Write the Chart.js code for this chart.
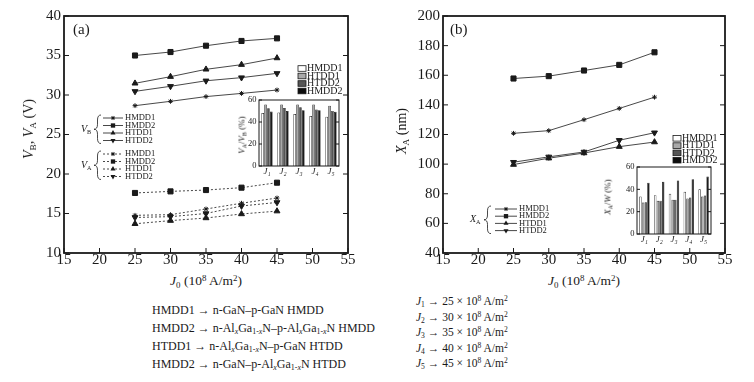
<!DOCTYPE html>
<html><head><meta charset="utf-8">
<script src="https://cdn.jsdelivr.net/npm/chart.js"></script>
<style>
html,body{margin:0;padding:0;background:#fff;}
#wrap{position:relative;width:754px;height:382px;overflow:hidden;background:#fff;font-family:'Liberation Serif','Times New Roman',serif;color:#1a1a1a;}
canvas{position:absolute;}
.t{position:absolute;white-space:nowrap;line-height:1;}
.rot{transform:translate(-50%,-50%) rotate(-90deg);}
.ctr{transform:translate(-50%,-50%);}
sub,sup{font-size:0.66em;line-height:0;}
sub{vertical-align:-0.3em;}
sup{vertical-align:0.5em;}
.blk{position:absolute;white-space:nowrap;}
</style></head>
<body><div id="wrap">
<canvas id="cA" width="360" height="272" style="left:0;top:0"></canvas>
<canvas id="cB" width="360" height="272" style="left:377px;top:0"></canvas>
<canvas id="iA" width="120" height="90" style="left:225px;top:92px"></canvas>
<canvas id="iB" width="120" height="92" style="left:600px;top:158px"></canvas>

<div class="t" style="left:73px;top:22px;font-size:15px;">(a)</div>
<div class="t" style="left:450px;top:22px;font-size:15px;">(b)</div>

<div class="t rot" style="left:29px;top:129px;font-size:14px;"><i>V</i><sub>B</sub>, <i>V</i><sub>A</sub> (V)</div>
<div class="t rot" style="left:402px;top:131px;font-size:14px;"><i>X</i><sub>A</sub> (nm)</div>

<div class="t ctr" style="left:206px;top:281px;font-size:13.5px;"><i>J</i><sub>0</sub> (10<sup>8</sup> A/m<sup>2</sup>)</div>
<div class="t ctr" style="left:584px;top:281px;font-size:13.5px;"><i>J</i><sub>0</sub> (10<sup>8</sup> A/m<sup>2</sup>)</div>

<div class="t rot" style="left:242px;top:135px;font-size:9px;"><i>V</i><sub>A</sub>/<i>V</i><sub>B</sub> (%)</div>
<div class="t rot" style="left:608px;top:197px;font-size:9px;"><i>X</i><sub>A</sub>/<i>W</i> (%)</div>

<div class="blk" style="left:152px;top:301px;font-size:12px;line-height:18px;">
HMDD1 &rarr; n-GaN&ndash;p-GaN HMDD<br>
HMDD2 &rarr; n-Al<sub><i>x</i></sub>Ga<sub>1-<i>x</i></sub>N&ndash;p-Al<sub><i>x</i></sub>Ga<sub>1-<i>x</i></sub>N HMDD<br>
HTDD1 &rarr; n-Al<sub><i>x</i></sub>Ga<sub>1-<i>x</i></sub>N&ndash;p-GaN HTDD<br>
HMDD2 &rarr; n-GaN&ndash;p-Al<sub><i>x</i></sub>Ga<sub>1-<i>x</i></sub>N HTDD
</div>
<div class="blk" style="left:416px;top:294px;font-size:11.5px;line-height:15.5px;">
<i>J</i><sub>1</sub> &rarr; 25 &times; 10<sup>8</sup> A/m<sup>2</sup><br>
<i>J</i><sub>2</sub> &rarr; 30 &times; 10<sup>8</sup> A/m<sup>2</sup><br>
<i>J</i><sub>3</sub> &rarr; 35 &times; 10<sup>8</sup> A/m<sup>2</sup><br>
<i>J</i><sub>4</sub> &rarr; 40 &times; 10<sup>8</sup> A/m<sup>2</sup><br>
<i>J</i><sub>5</sub> &rarr; 45 &times; 10<sup>8</sup> A/m<sup>2</sup>
</div>
</div>
<script>
// ---------------- DATA ----------------
const currentDensity = [25, 30, 35, 40, 45];           // J0 (10^8 A/m^2)
const seriesNames = ['HMDD1', 'HMDD2', 'HTDD1', 'HTDD2'];

// Breakdown voltage V_B (V)
const vbHMDD1 = [28.65, 29.2, 29.8, 30.2, 30.63];
const vbHMDD2 = [35.0, 35.44, 36.24, 36.84, 37.17];
const vbHTDD1 = [31.48, 32.32, 33.25, 33.84, 34.68];
const vbHTDD2 = [30.46, 31.1, 31.8, 32.2, 32.74];
// Avalanche voltage V_A (V)
const vaHMDD1 = [14.77, 14.85, 15.57, 16.3, 16.96];
const vaHMDD2 = [17.6, 17.8, 17.97, 18.27, 18.9];
const vaHTDD1 = [13.7, 14.1, 14.43, 14.94, 15.3];
const vaHTDD2 = [14.5, 14.6, 15.0, 15.95, 16.4];

// Avalanche zone width X_A (nm)
const xaHMDD1 = [120.8, 122.6, 130.0, 137.6, 145.2];
const xaHMDD2 = [157.8, 159.4, 163.2, 167.0, 175.5];
const xaHTDD1 = [99.7, 104.0, 107.5, 111.8, 114.9];
const xaHTDD2 = [101.3, 104.9, 108.2, 116.1, 121.2];

// Inset categories
const insetCategories = ['J\u2081', 'J\u2082', 'J\u2083', 'J\u2084', 'J\u2085'];
const barSeriesNames = ['HMDD1', 'HTDD1', 'HTDD2', 'HMDD2'];
// V_A / V_B (%)
const ratioVHMDD1 = [48.1, 48.7, 47.3, 45.5, 44.7];
const ratioVHTDD1 = [55.9, 55.9, 55.9, 55.9, 54.8];
const ratioVHTDD2 = [52.4, 52.7, 53.3, 51.3, 50.1];
const ratioVHMDD2 = [49.6, 49.9, 50.7, 50.7, 49.3];
// X_A / W (%)
const ratioXHMDD1 = [33.6, 34.8, 36.0, 37.9, 40.0];
const ratioXHTDD1 = [28.2, 29.7, 30.6, 31.8, 33.6];
const ratioXHTDD2 = [28.5, 29.7, 30.6, 32.7, 34.5];
const ratioXHMDD2 = [45.8, 46.7, 47.9, 49.1, 51.5];

// ---------------- STYLE ----------------
const FONT = "'Liberation Serif','Times New Roman',serif";
const INK = '#1a1a1a';
const markerFor = {
  HMDD1: {ps: 'star', r: 2.4, rot: 0},
  HMDD2: {ps: 'rect', r: 3.6, rot: 0},
  HTDD1: {ps: 'triangle', r: 3.4, rot: 0},
  HTDD2: {ps: 'triangle', r: 3.4, rot: 180}
};
const barColors = {HMDD1: '#ffffff', HTDD1: '#a9a9a9', HTDD2: '#555555', HMDD2: '#0d0d0d'};

function drawMarker(ctx, name, x, y, scale) {
  const m = markerFor[name];
  const r = m.r * scale;
  ctx.save();
  ctx.fillStyle = INK; ctx.strokeStyle = INK; ctx.lineWidth = 1; ctx.setLineDash([]);
  ctx.beginPath();
  if (m.ps === 'rect') {
    const s = r * Math.SQRT1_2;
    ctx.rect(x - s, y - s, 2 * s, 2 * s); ctx.fill();
  } else if (m.ps === 'triangle') {
    const d = m.rot ? -1 : 1;
    ctx.moveTo(x, y - d * r);
    ctx.lineTo(x + r * 0.866, y + d * r * 0.5);
    ctx.lineTo(x - r * 0.866, y + d * r * 0.5);
    ctx.closePath(); ctx.fill();
  } else {
    for (let k = 0; k < 4; k++) {
      const a = k * Math.PI / 4;
      ctx.moveTo(x + Math.cos(a) * r, y + Math.sin(a) * r);
      ctx.lineTo(x - Math.cos(a) * r, y - Math.sin(a) * r);
    }
    ctx.stroke();
  }
  ctx.restore();
}

function drawBrace(ctx, xTip, xArm, y1, y2) {
  const ym = (y1 + y2) / 2, xm = (xTip + xArm) / 2;
  ctx.beginPath();
  ctx.moveTo(xArm, y1);
  ctx.quadraticCurveTo(xm, y1, xm, y1 + (ym - y1) * 0.35);
  ctx.lineTo(xm, ym - (ym - y1) * 0.35);
  ctx.quadraticCurveTo(xm, ym, xTip, ym);
  ctx.quadraticCurveTo(xm, ym, xm, ym + (y2 - ym) * 0.35);
  ctx.lineTo(xm, y2 - (y2 - ym) * 0.35);
  ctx.quadraticCurveTo(xm, y2, xArm, y2);
  ctx.stroke();
}

function subLabel(ctx, main, sub, x, y, size) {
  ctx.save();
  ctx.fillStyle = INK; ctx.textBaseline = 'middle'; ctx.textAlign = 'left';
  ctx.font = 'italic ' + size + 'px ' + FONT;
  ctx.fillText(main, x, y);
  const w = ctx.measureText(main).width;
  ctx.font = (size * 0.62) + 'px ' + FONT;
  ctx.fillText(sub, x + w, y + size * 0.3);
  ctx.restore();
}

const framePlugin = {
  id: 'frame',
  afterDatasetsDraw(chart, args, opts) {
    const {ctx, chartArea: a, scales} = chart;
    ctx.save();
    ctx.strokeStyle = INK;
    ctx.setLineDash([]);
    ctx.lineWidth = opts.lineWidth;
    ctx.strokeRect(a.left, a.top, a.right - a.left, a.bottom - a.top);
    ctx.lineWidth = 1;
    ctx.beginPath();
    const L = opts.tickLen;
    if (opts.xTicks) {
      scales.x.ticks.forEach(t => {
        const p = scales.x.getPixelForValue(t.value);
        ctx.moveTo(p, a.bottom); ctx.lineTo(p, a.bottom - L);
      });
    }
    scales.y.ticks.forEach(t => {
      const p = scales.y.getPixelForValue(t.value);
      ctx.moveTo(a.left, p); ctx.lineTo(a.left + L, p);
      if (opts.mirrorY) { ctx.moveTo(a.right, p); ctx.lineTo(a.right - L, p); }
    });
    ctx.stroke();
    ctx.restore();
  }
};

const legendPlugin = {
  id: 'customLegends',
  afterDraw(chart, args, opts) {
    const ctx = chart.ctx;
    ctx.save();
    ctx.strokeStyle = INK; ctx.fillStyle = INK;
    (opts.lineGroups || []).forEach(g => {
      ctx.lineWidth = 0.8; ctx.setLineDash([]);
      drawBrace(ctx, g.braceTip, g.braceArm, g.ys[0] - 3, g.ys[g.ys.length - 1] + 3);
      subLabel(ctx, g.symbol, g.sub, g.labelX, (g.ys[0] + g.ys[g.ys.length - 1]) / 2, 10);
      g.names.forEach((name, i) => {
        const y = g.ys[i];
        ctx.save();
        ctx.strokeStyle = '#333'; ctx.lineWidth = 0.9;
        ctx.setLineDash(g.dashed ? [2, 2] : []);
        ctx.beginPath(); ctx.moveTo(g.x1, y); ctx.lineTo(g.x2, y); ctx.stroke();
        ctx.restore();
        drawMarker(ctx, name, (g.x1 + g.x2) / 2, y, 0.85);
        ctx.font = g.fontSize + 'px ' + FONT; ctx.textBaseline = 'middle'; ctx.textAlign = 'left';
        ctx.fillStyle = INK;
        ctx.fillText(name, g.textX, y);
      });
    });
    const b = opts.barLegend;
    if (b) {
      b.names.forEach((name, i) => {
        const y = b.ys[i];
        ctx.fillStyle = barColors[name];
        ctx.fillRect(b.x, y - 2.8, 8, 5.6);
        ctx.strokeStyle = INK; ctx.lineWidth = 0.8;
        ctx.strokeRect(b.x, y - 2.8, 8, 5.6);
        ctx.fillStyle = INK;
        ctx.font = b.fontSize + 'px ' + FONT; ctx.textBaseline = 'middle'; ctx.textAlign = 'left';
        ctx.fillText(name, b.x + 9, y);
      });
    }
    ctx.restore();
  }
};

function lineDataset(name, values, dashed) {
  const m = markerFor[name];
  return {
    label: name,
    data: currentDensity.map((x, i) => ({x: x, y: values[i]})),
    borderColor: '#333', borderWidth: 0.9,
    borderDash: dashed ? [2, 2] : [],
    pointStyle: m.ps, rotation: m.rot, pointRadius: m.r,
    pointBackgroundColor: INK, pointBorderColor: INK, pointBorderWidth: 1,
    tension: 0, fill: false
  };
}

function mainOptions(yMin, yMax, yStep, yWidth, legends) {
  return {
    responsive: false, animation: false, devicePixelRatio: 1,
    layout: {padding: {left: 0, top: 16, right: 12, bottom: 0}},
    plugins: {
      legend: {display: false}, tooltip: {enabled: false},
      frame: {lineWidth: 1.8, tickLen: 5, xTicks: true, mirrorY: true},
      customLegends: legends
    },
    scales: {
      x: {
        type: 'linear', min: 15, max: 55,
        ticks: {stepSize: 5, font: {family: FONT, size: 15, lineHeight: 1}, color: INK, padding: 0, maxRotation: 0, autoSkip: false},
        grid: {display: false, drawTicks: false, tickLength: 0}, border: {display: false},
        afterFit(s) { s.height = 19; }
      },
      y: {
        type: 'linear', min: yMin, max: yMax,
        ticks: {stepSize: yStep, font: {family: FONT, size: 15, lineHeight: 1}, color: INK, padding: 3},
        grid: {display: false, drawTicks: false, tickLength: 0}, border: {display: false},
        afterFit(s) { s.width = yWidth; }
      }
    }
  };
}

function insetOptions(yWidth, pad) {
  return {
    responsive: false, animation: false, devicePixelRatio: 1,
    layout: {padding: {left: 0, top: pad.top, right: pad.right, bottom: 0}},
    plugins: {legend: {display: false}, tooltip: {enabled: false},
      frame: {lineWidth: 1, tickLen: 3, xTicks: false, mirrorY: true}},
    scales: {
      x: {
        type: 'category',
        ticks: {font: {family: FONT, size: 9, style: 'italic', lineHeight: 1}, color: INK, padding: 1, maxRotation: 0, autoSkip: false},
        grid: {display: false, drawTicks: false, tickLength: 0}, border: {display: false},
        afterFit(s) { s.height = pad.xh; }
      },
      y: {
        min: 0, max: 60,
        ticks: {stepSize: 20, font: {family: FONT, size: 8.5, lineHeight: 1}, color: INK, padding: 2.5},
        grid: {display: false, drawTicks: false, tickLength: 0}, border: {display: false},
        afterFit(s) { s.width = yWidth; }
      }
    }
  };
}

function barDataset(name, values) {
  return {label: name, data: values, backgroundColor: barColors[name], borderColor: INK, borderWidth: 0.7,
    categoryPercentage: 0.72, barPercentage: 0.92};
}

// ---------------- CHARTS ----------------
new Chart(document.getElementById('cA'), {
  type: 'line',
  data: {datasets: [
    lineDataset('HMDD1', vbHMDD1, false), lineDataset('HMDD2', vbHMDD2, false),
    lineDataset('HTDD1', vbHTDD1, false), lineDataset('HTDD2', vbHTDD2, false),
    lineDataset('HMDD1', vaHMDD1, true), lineDataset('HMDD2', vaHMDD2, true),
    lineDataset('HTDD1', vaHTDD1, true), lineDataset('HTDD2', vaHTDD2, true)
  ]},
  options: mainOptions(10, 40, 5, 64, {
    lineGroups: [
      {symbol: 'V', sub: 'B', names: seriesNames, ys: [118, 125.5, 133, 140.5], x1: 103, x2: 123, textX: 125,
        braceTip: 94, braceArm: 101, labelX: 81, dashed: false, fontSize: 8.5},
      {symbol: 'V', sub: 'A', names: seriesNames, ys: [154, 161.5, 169, 176.5], x1: 103, x2: 123, textX: 125,
        braceTip: 94, braceArm: 101, labelX: 81, dashed: true, fontSize: 8.5}
    ],
    barLegend: {names: barSeriesNames, x: 298, ys: [68.5, 76, 83.5, 91], fontSize: 10}
  }),
  plugins: [framePlugin, legendPlugin]
});

new Chart(document.getElementById('cB'), {
  type: 'line',
  data: {datasets: [
    lineDataset('HMDD1', xaHMDD1, false), lineDataset('HMDD2', xaHMDD2, false),
    lineDataset('HTDD1', xaHTDD1, false), lineDataset('HTDD2', xaHTDD2, false)
  ]},
  options: mainOptions(40, 200, 20, 66, {
    lineGroups: [
      {symbol: 'X', sub: 'A', names: seriesNames, ys: [209, 216.2, 223.4, 230.6], x1: 118, x2: 140, textX: 142,
        braceTip: 107, braceArm: 114, labelX: 93, dashed: false, fontSize: 8.5}
    ],
    barLegend: {names: barSeriesNames, x: 296, ys: [138.3, 145.6, 152.9, 160.2], fontSize: 10}
  }),
  plugins: [framePlugin, legendPlugin]
});

new Chart(document.getElementById('iA'), {
  type: 'bar',
  data: {labels: insetCategories, datasets: [
    barDataset('HMDD1', ratioVHMDD1), barDataset('HTDD1', ratioVHTDD1),
    barDataset('HTDD2', ratioVHTDD2), barDataset('HMDD2', ratioVHMDD2)
  ]},
  options: insetOptions(34, {top: 8, right: 6, xh: 16}),
  plugins: [framePlugin]
});

new Chart(document.getElementById('iB'), {
  type: 'bar',
  data: {labels: insetCategories, datasets: [
    barDataset('HMDD1', ratioXHMDD1), barDataset('HTDD1', ratioXHTDD1),
    barDataset('HTDD2', ratioXHTDD2), barDataset('HMDD2', ratioXHMDD2)
  ]},
  options: insetOptions(37, {top: 9, right: 9, xh: 16}),
  plugins: [framePlugin]
});
</script>
</body></html>
